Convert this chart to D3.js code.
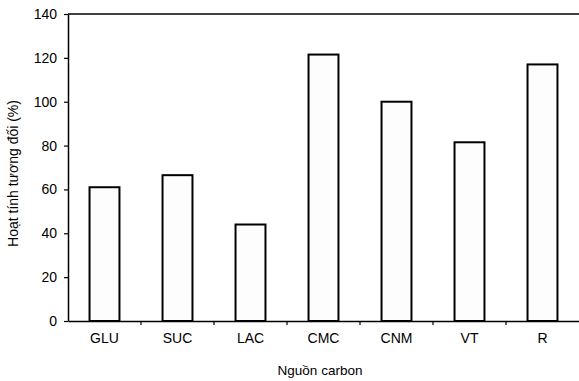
<!DOCTYPE html>
<html>
<head>
<meta charset="utf-8">
<script src="https://cdn.jsdelivr.net/npm/d3@7"></script>
<style>
  html, body { margin: 0; padding: 0; background: #fff; }
  svg { display: block; }
  text { font-family: "Liberation Sans", Arial, sans-serif; fill: #000; }
</style>
</head>
<body>
<svg id="chart" width="579" height="381"></svg>
<script>
// Relative activity by carbon source
const categories = ["GLU", "SUC", "LAC", "CMC", "CNM", "VT", "R"];
const values = [61, 66.5, 44, 121.5, 100, 81.5, 117];
const yTicks = [0, 20, 40, 60, 80, 100, 120, 140];
const yTitle = "Hoạt tính tương đối (%)";
const xTitle = "Nguồn carbon";

const svg = d3.select("#chart");
const margin = { left: 68, top: 14 };
const W = 579;
const plotBottom = 321;
const tickFont = 14;

const x = d3.scaleBand()
  .domain(categories)
  .range([margin.left, margin.left + 511])
  .paddingInner(0.59)
  .paddingOuter(0.295);

const y = d3.scaleLinear()
  .domain([0, 140])
  .range([plotBottom, margin.top]);

// top frame line
svg.append("line")
  .attr("x1", margin.left).attr("x2", W)
  .attr("y1", y(140)).attr("y2", y(140))
  .attr("stroke", "#000").attr("stroke-width", 1.5);

// bars
svg.append("g").selectAll("rect")
  .data(categories.map((c, i) => ({ c, v: values[i] })))
  .join("rect")
  .attr("x", d => x(d.c))
  .attr("y", d => y(d.v))
  .attr("width", x.bandwidth())
  .attr("height", d => y(0) - y(d.v))
  .attr("fill", "#fdfdfd")
  .attr("stroke", "#000")
  .attr("stroke-width", 2);

// y axis
const yAxis = d3.axisLeft(y).tickValues(yTicks).tickSize(4).tickPadding(7).tickSizeOuter(0);
const gy = svg.append("g").attr("transform", `translate(${margin.left},0)`).call(yAxis);
gy.select(".domain").attr("stroke-width", 1.5);
gy.selectAll(".tick line").attr("stroke-width", 1.2);
gy.selectAll("text").attr("font-size", tickFont).style("font-family", "Liberation Sans, Arial, sans-serif");

// x axis: category labels, ticks between categories
const step = x.step();
const xAxis = d3.axisBottom(x).tickSize(0).tickPadding(12).tickSizeOuter(0);
const gx = svg.append("g").attr("transform", `translate(0,${plotBottom})`).call(xAxis);
gx.select(".domain").attr("stroke-width", 1.5);
gx.selectAll("text").attr("font-size", tickFont).style("font-family", "Liberation Sans, Arial, sans-serif");
const bounds = d3.range(1, categories.length).map(i => margin.left + i * step);
gx.selectAll(".sep").data(bounds).join("line")
  .attr("class", "sep")
  .attr("x1", d => d).attr("x2", d => d)
  .attr("y1", 0).attr("y2", 4)
  .attr("stroke", "#000").attr("stroke-width", 1.2);

// axis titles
svg.append("text")
  .attr("transform", `translate(18,${(margin.top + plotBottom) / 2 + 6}) rotate(-90)`)
  .attr("text-anchor", "middle")
  .attr("font-size", 14)
  .text(yTitle);

svg.append("text")
  .attr("x", 320).attr("y", 375)
  .attr("text-anchor", "middle")
  .attr("font-size", 13.5)
  .text(xTitle);
</script>
</body>
</html>
